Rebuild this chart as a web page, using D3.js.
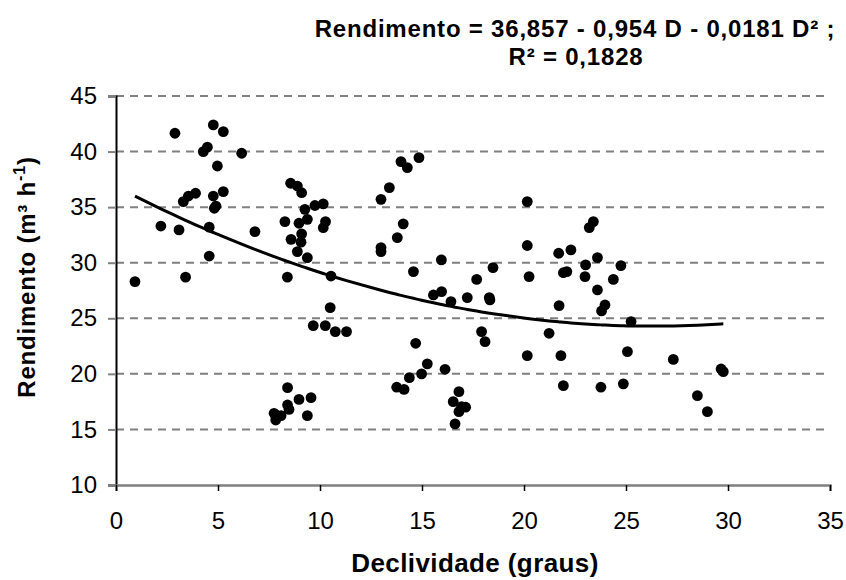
<!DOCTYPE html>
<html>
<head>
<meta charset="utf-8">
<script src="https://cdn.jsdelivr.net/npm/d3@7/dist/d3.min.js"></script>
<style>
  html, body { margin: 0; padding: 0; background: #fff; }
  svg { display: block; font-family: "Liberation Sans", Arial, sans-serif; }
</style>
</head>
<body>
<svg id="chart" width="846" height="580"></svg>
<script>
// Slope (degrees) of each observation
const declividade = [
  0.93, 2.2, 2.89, 3.09, 3.30, 3.41, 3.55, 3.9, 4.28, 4.48,
  4.57, 4.57, 4.77, 4.77, 4.82, 4.9, 4.97, 5.26, 5.26, 6.16,
  6.81, 7.75, 7.83, 7.83, 8.09, 8.28, 8.4, 8.41, 8.41, 8.48,
  8.56, 8.58, 8.89, 8.89, 8.97, 8.97, 9.07, 9.1, 9.1, 9.26,
  9.38, 9.38, 9.38, 9.56, 9.67, 9.75, 10.16, 10.16, 10.26, 10.27,
  10.5, 10.54, 10.75, 11.3, 12.99, 12.99, 12.99, 13.4, 13.76, 13.79,
  13.97, 14.08, 14.12, 14.28, 14.38, 14.58, 14.69, 14.85, 14.98, 15.26,
  15.56, 15.95, 15.96, 16.13, 16.42, 16.53, 16.62, 16.81, 16.81, 16.94,
  17.14, 17.22, 17.68, 17.92, 18.09, 18.3, 18.33, 18.48, 20.16, 20.16,
  20.16, 20.25, 21.23, 21.7, 21.72, 21.81, 21.93, 21.93, 22.1, 22.3,
  22.99, 23.02, 23.2, 23.4, 23.6, 23.6, 23.77, 23.8, 23.97, 24.38,
  24.75, 24.87, 25.07, 25.25, 27.32, 28.5, 28.99, 29.66, 29.77
];

// Productivity (m³ h⁻¹) of each observation
const rendimento = [
  28.3, 33.3, 41.65, 32.95, 35.5, 28.7, 36.0, 36.25, 40.0, 40.4,
  33.2, 30.6, 42.4, 36.0, 34.9, 35.1, 38.7, 41.8, 36.4, 39.85,
  32.8, 16.45, 16.3, 15.85, 16.24, 33.7, 28.7, 18.76, 17.2, 16.8,
  37.15, 32.1, 36.9, 31.0, 33.55, 17.7, 31.85, 36.3, 32.6, 34.8,
  33.9, 30.45, 16.24, 17.86, 24.34, 35.15, 35.3, 33.15, 24.34, 33.7,
  25.96, 28.8, 23.8, 23.8, 35.7, 31.36, 31.0, 36.76, 18.8, 32.26,
  39.1, 33.5, 18.6, 38.56, 19.66, 29.2, 22.75, 39.46, 20.0, 20.9,
  27.1, 30.25, 27.4, 20.41, 26.5, 17.5, 15.5, 18.4, 16.6, 17.05,
  17.0, 26.86, 28.5, 23.8, 22.9, 26.86, 26.65, 29.56, 35.5, 31.55,
  21.64, 28.75, 23.65, 30.85, 26.14, 21.64, 29.1, 18.94, 29.2, 31.15,
  28.75, 29.8, 33.16, 33.7, 30.46, 27.55, 18.8, 25.66, 26.2, 28.5,
  29.74, 19.1, 22.0, 24.7, 21.3, 18.04, 16.6, 20.44, 20.2
];

// Quadratic fit: a + b·D + c·D²
const coeficientes = [36.857, -0.954, 0.0181];

const xTicks = [0, 5, 10, 15, 20, 25, 30, 35];
const yTicks = [10, 15, 20, 25, 30, 35, 40, 45];

const equacao = ["Rendimento = 36,857 - 0,954 D - 0,0181 D² ;", "R² = 0,1828"];

const svg = d3.select("#chart");
const plotLeft = 116, plotRight = 830, plotTop = 96, plotBottom = 485;
const fontFamily = "'Liberation Sans', Arial, sans-serif";

const x = d3.scaleLinear().domain([0, 35]).range([plotLeft, plotRight]);
const y = d3.scaleLinear().domain([10, 45]).range([plotBottom, plotTop]);

// Dashed horizontal gridlines
svg.append("g")
  .selectAll("line")
  .data(yTicks.filter(t => t > 10))
  .join("line")
  .attr("x1", plotLeft).attr("x2", plotRight)
  .attr("y1", d => y(d)).attr("y2", d => y(d))
  .attr("stroke", "#808080")
  .attr("stroke-width", 2)
  .attr("stroke-dasharray", "8,6");

// Y axis
const yAxis = svg.append("g")
  .attr("transform", `translate(${plotLeft},0)`)
  .call(d3.axisLeft(y).tickValues(yTicks).tickSize(8).tickPadding(11).tickFormat(d3.format("d")));
yAxis.select(".domain").attr("stroke", "#000").attr("stroke-width", 2);
yAxis.selectAll(".tick line").attr("stroke", "#808080").attr("stroke-width", 2);
yAxis.selectAll(".tick text").attr("font-size", 24).attr("fill", "#000")
  .attr("font-family", fontFamily);

// X axis
const xAxis = svg.append("g")
  .attr("transform", `translate(0,${plotBottom})`)
  .call(d3.axisBottom(x).tickValues(xTicks).tickSize(6).tickPadding(21).tickFormat(d3.format("d")));
xAxis.select(".domain").attr("stroke", "#808080").attr("stroke-width", 2.5);
xAxis.selectAll(".tick line").attr("stroke", "#000").attr("stroke-width", 1.5);
xAxis.selectAll(".tick text").attr("font-size", 24).attr("fill", "#000")
  .attr("font-family", fontFamily);

// Fitted curve through the observed slopes
const fit = d => coeficientes[0] + coeficientes[1] * d + coeficientes[2] * d * d;
const xs = Array.from(new Set(declividade)).sort((a, b) => a - b);
svg.append("path")
  .datum(xs)
  .attr("fill", "none")
  .attr("stroke", "#000")
  .attr("stroke-width", 3)
  .attr("stroke-linejoin", "round")
  .attr("d", d3.line().x(d => x(d)).y(d => y(fit(d))));

// Observations
svg.append("g")
  .selectAll("circle")
  .data(declividade.map((d, i) => [d, rendimento[i]]))
  .join("circle")
  .attr("cx", d => x(d[0]))
  .attr("cy", d => y(d[1]))
  .attr("r", 5.4)
  .attr("fill", "#000");

// Equation block
const eq = svg.append("text")
  .attr("text-anchor", "middle")
  .attr("font-size", 24)
  .attr("font-weight", "bold")
  .attr("letter-spacing", 0.8);
eq.append("tspan").attr("x", 575).attr("y", 37).text(equacao[0]);
eq.append("tspan").attr("x", 576).attr("y", 65).text(equacao[1]);

// Axis titles
svg.append("text")
  .attr("x", 475).attr("y", 572)
  .attr("text-anchor", "middle")
  .attr("font-size", 26).attr("font-weight", "bold")
  .attr("letter-spacing", 0.4)
  .text("Declividade (graus)");

const yt = svg.append("text")
  .attr("transform", "translate(35,277) rotate(-90)")
  .attr("text-anchor", "middle")
  .attr("font-size", 24).attr("font-weight", "bold")
  .attr("letter-spacing", 0.8);
yt.append("tspan").text("Rendimento (m³ h");
yt.append("tspan").attr("dy", -10).attr("font-size", 16).text("-1");
yt.append("tspan").attr("dy", 10).text(")");
</script>
</body>
</html>
